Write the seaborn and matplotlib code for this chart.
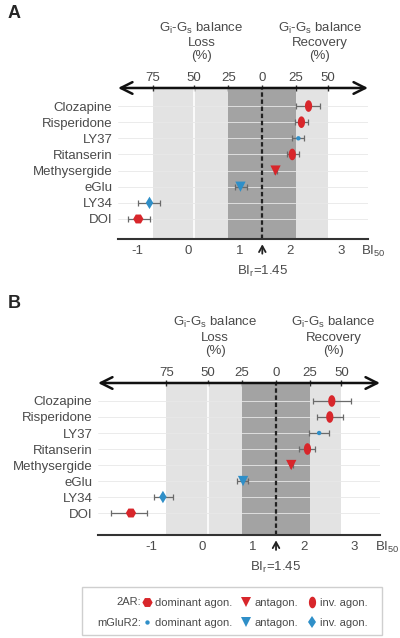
import numpy as np
import pandas as pd
import matplotlib
matplotlib.use('Agg')
from matplotlib import pyplot as plt
from matplotlib.lines import Line2D
from matplotlib.patches import Rectangle
import seaborn as sns

sns.set_theme(style='white')
plt.rcParams['font.family'] = ['Liberation Sans', 'DejaVu Sans']
plt.rcParams['mathtext.fontset'] = 'custom'
plt.rcParams['mathtext.rm'] = 'Liberation Sans'
plt.rcParams['mathtext.it'] = 'Liberation Sans'

# data
drugs = ['Clozapine', 'Risperidone', 'LY37', 'Ritanserin', 'Methysergide', 'eGlu', 'LY34', 'DOI']
receptor = ['2AR', '2AR', 'mGluR2', '2AR', '2AR', 'mGluR2', 'mGluR2', '2AR']
kind = ['inv', 'inv', 'dom', 'inv', 'ant', 'ant', 'inv', 'dom']

bi_a = [2.36, 2.22, 2.16, 2.04, 1.71, 1.02, -0.77, -0.99]
lo_a = [2.12, 2.10, 2.04, 1.93, 1.68, 0.92, -0.99, -1.19]
hi_a = [2.58, 2.34, 2.28, 2.18, 1.74, 1.14, -0.56, -0.76]

bi_b = [2.55, 2.51, 2.30, 2.07, 1.75, 0.80, -0.78, -1.41]
lo_b = [2.18, 2.26, 2.10, 1.91, 1.72, 0.68, -0.95, -1.80]
hi_b = [2.93, 2.77, 2.49, 2.22, 1.78, 0.90, -0.58, -1.09]

bi_r = 1.45
pct_pos = [-0.71, 0.10, 0.78, 1.45, 2.11, 2.74]
pct_labels = ['75', '50', '25', '0', '25', '50']
bi_ticks = [-1, 0, 1, 2, 3]

RED = '#d8262b'
BLUE = '#2f8fc8'
TXT = '#4a4a4a'

# tall ellipse marker for inverse agonists
t = np.linspace(0, 2 * np.pi, 40)
ellipse = np.column_stack([0.62 * np.cos(t), np.sin(t)])
marker_style = {
    ('2AR', 'dom'): dict(marker='H', s=55, color=RED),
    ('2AR', 'ant'): dict(marker='v', s=55, color=RED),
    ('2AR', 'inv'): dict(marker=ellipse, s=70, color=RED),
    ('mGluR2', 'dom'): dict(marker='o', s=10, color=BLUE),
    ('mGluR2', 'ant'): dict(marker='v', s=55, color=BLUE),
    ('mGluR2', 'inv'): dict(marker='d', s=40, color=BLUE),
}


def panel(ax, bi, lo, hi, xlim, ylim):
    df = pd.DataFrame({'drug': drugs, 'receptor': receptor, 'kind': kind,
                       'bi': bi, 'lo': lo, 'hi': hi})
    df['row'] = np.arange(len(df))

    ax.axvspan(pct_pos[0], pct_pos[-1], color='#e3e3e3', zorder=0, lw=0)
    ax.axvspan(pct_pos[2], pct_pos[4], color='#a3a3a3', zorder=0.5, lw=0)
    ax.axvline(pct_pos[1], color='white', lw=1.2, zorder=0.6)
    for r in df['row']:
        ax.axhline(r, color='#e8e8e8', lw=0.6, zorder=0.7)
    ax.axvline(bi_r, color='#222222', lw=1.6, ls=(0, (2, 1.2)), zorder=1)

    ax.errorbar(df['bi'], df['row'], xerr=[df['bi'] - df['lo'], df['hi'] - df['bi']],
                fmt='none', ecolor='#6a6a6a', elinewidth=0.9, capsize=2.5, capthick=0.9, zorder=2)
    for (rec, kd), g in df.groupby(['receptor', 'kind']):
        st = marker_style[(rec, kd)]
        sns.scatterplot(data=g, x='bi', y='row', ax=ax, marker=st['marker'], s=st['s'],
                        color=st['color'], edgecolor='none', zorder=3, legend=False)

    ax.set_xlim(*xlim)
    ax.set_ylim(*ylim)
    ax.set_yticks(df['row'])
    ax.set_yticklabels(drugs, fontsize=9.5, color=TXT)
    ax.tick_params(axis='y', length=0, pad=4)
    ax.set_xticks(bi_ticks)
    ax.set_xticklabels([str(v) for v in bi_ticks], fontsize=9.5, color=TXT)
    ax.tick_params(axis='x', direction='inout', length=4, width=1, color='#333333', pad=2)
    ax.set_xlabel('')
    ax.set_ylabel('')
    for s in ['left', 'right', 'top']:
        ax.spines[s].set_visible(False)
    ax.spines['bottom'].set_color('#333333')
    ax.spines['bottom'].set_linewidth(1.5)

    # top percentage axis with double arrow
    top = ax.secondary_xaxis('top')
    top.set_xticks(pct_pos)
    top.set_xticklabels(pct_labels, fontsize=9.5, color=TXT)
    top.tick_params(direction='inout', length=4, width=1, color='#333333', pad=1)
    top.spines['top'].set_visible(False)
    ax.annotate('', xy=(1.0, 1.0), xytext=(0.0, 1.0), xycoords='axes fraction',
                arrowprops=dict(arrowstyle='<->,head_length=0.7,head_width=0.35',
                                color='#111111', lw=1.8, shrinkA=0, shrinkB=0))

    tr = ax.get_xaxis_transform()
    head = r'G$_\mathregular{i}$-G$_\mathregular{s}$ balance'
    ax.text(0.25, 1.17, head + '\nLoss\n(%)', transform=tr, ha='center', va='bottom',
            fontsize=9.5, color=TXT, linespacing=1.15)
    ax.text(2.58, 1.17, head + '\nRecovery\n(%)', transform=tr, ha='center', va='bottom',
            fontsize=9.5, color=TXT, linespacing=1.15)

    ax.text(3.4, -0.085, r'BI$_{50}$', transform=tr, ha='left', va='center',
            fontsize=9.5, color=TXT, clip_on=False)
    ax.annotate(r'BI$_\mathregular{r}$=1.45', xy=(bi_r, -0.035), xytext=(bi_r, -0.215),
                xycoords=tr, textcoords=tr, ha='center', va='center', fontsize=9.5, color=TXT,
                arrowprops=dict(arrowstyle='->,head_length=0.45,head_width=0.25', color='#222222',
                                lw=1.3, shrinkA=5, shrinkB=0))


fig = plt.figure(figsize=(4.0, 6.38), dpi=100)
ax_a = fig.add_axes([0.295, 0.6254, 0.625, 0.2367])
panel(ax_a, bi_a, lo_a, hi_a, (-1.39, 3.53), (8.24, -1.12))
ax_b = fig.add_axes([0.245, 0.1614, 0.705, 0.2383])
panel(ax_b, bi_b, lo_b, hi_b, (-2.06, 3.50), (8.375, -1.125))

fig.text(0.02, 1 - 13 / 638, 'A', fontsize=13, fontweight='bold', va='center', ha='left')
fig.text(0.02, 1 - 303 / 638, 'B', fontsize=13, fontweight='bold', va='center', ha='left')

# legend box
fig.patches.append(Rectangle((82 / 400, 1 - 635 / 638), 300 / 400, 48 / 638,
                             transform=fig.transFigure, fill=False, ec='#cfcfcf', lw=1))
fig.text(141 / 400, 1 - 602 / 638, '2AR:', ha='right', va='center', fontsize=8, color=TXT)
fig.text(141 / 400, 1 - 623 / 638, 'mGluR2:', ha='right', va='center', fontsize=8, color=TXT)
handles = []
labels = []
for kd, lab in [('dom', 'dominant agon.'), ('ant', 'antagon.'), ('inv', 'inv. agon.')]:
    for rec in ['2AR', 'mGluR2']:
        st = marker_style[(rec, kd)]
        handles.append(Line2D([], [], ls='none', marker=st['marker'], color=st['color'],
                              markersize=np.sqrt(st['s']), markeredgewidth=0))
        labels.append(lab)
fig.legend(handles, labels, ncol=3, loc='center left', bbox_to_anchor=(142.5 / 400, 1 - 612.5 / 638),
           frameon=False, fontsize=8, labelcolor=TXT, handlelength=0.8, handletextpad=0.3,
           columnspacing=0.9, labelspacing=0.9, borderpad=0, borderaxespad=0)

fig.savefig('out.png', dpi=100)
